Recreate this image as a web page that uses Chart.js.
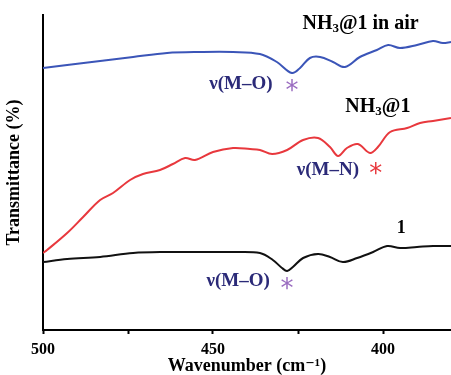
<!DOCTYPE html>
<html>
<head>
<meta charset="utf-8">
<script src="https://cdn.jsdelivr.net/npm/chart.js@4"></script>
<style>
  html, body { margin: 0; padding: 0; background: #fff; }
  #wrap { width: 451px; height: 375px; position: relative; }
</style>
</head>
<body>
<div id="wrap"><canvas id="ir"></canvas></div>
<script>
// IR spectra, far-IR region (arbitrary transmittance units, stacked)
const waveAir = [500, 492.9, 483.2, 473.5, 463.5, 453.8, 444.1, 436.2, 431.2, 426.8, 424.4, 421.5, 418.5, 414.7, 411.2, 406.8, 401.8, 398.5, 395.0, 390.0, 385.3, 382.4, 380];
const tAir    = [262, 265, 269, 273, 277, 278, 278, 276, 268, 257, 262, 272, 273, 268, 263, 273, 280, 285, 282, 285, 289, 287, 288];

const waveNH3 = [500, 498.8, 492.9, 488.2, 483.2, 479.4, 474.4, 470.6, 465.6, 461.8, 458.2, 455.3, 450.0, 444.1, 439.1, 436.2, 432.6, 428.2, 423.5, 419.1, 415.6, 413.2, 410.6, 407.4, 403.8, 401.5, 397.9, 392.9, 389.1, 385.3, 380];
const tNH3    = [77, 80, 97, 113, 130, 137, 150, 156, 160, 166, 172, 170, 178, 182, 181, 180, 176, 180, 190, 192, 183, 174, 182, 186, 177, 183, 198, 202, 207, 209, 212];

const wave1 = [500, 492.9, 483.2, 473.5, 463.5, 453.8, 444.1, 436.2, 432.4, 429.7, 428.2, 426.5, 423.5, 419.1, 415.6, 411.8, 407.6, 402.9, 398.8, 395.0, 390.0, 385.3, 380];
const t1    = [68, 71, 73, 77, 78, 78, 78, 77, 70, 62, 59, 63, 72, 76, 73, 68, 72, 78, 84, 82, 83, 84, 84];

const toXY = (xs, ys) => xs.map((x, i) => ({ x, y: ys[i] }));

const SERIF = "'Liberation Serif', 'DejaVu Serif', serif";
const NAVY = '#2b2a78';
const PURPLE = '#9a6cc0';
const RED = '#e8383d';

// NH3 label with real subscript
function drawNH3(ctx, text, x, y, size) {
    const big = 'bold ' + size + 'px ' + SERIF;
    const small = 'bold ' + Math.round(size * 0.65) + 'px ' + SERIF;
    ctx.font = big; const w1 = ctx.measureText('NH').width;
    ctx.font = small; const w2 = ctx.measureText('3').width;
    ctx.font = big; const w3 = ctx.measureText(text).width;
    let cx = x - (w1 + w2 + w3) / 2;
    ctx.textAlign = 'left'; ctx.textBaseline = 'middle';
    ctx.font = big; ctx.fillText('NH', cx, y); cx += w1;
    ctx.font = small; ctx.fillText('3', cx, y + size * 0.25); cx += w2;
    ctx.font = big; ctx.fillText(text, cx, y);
}

function star(ctx, color, x, y) {
    ctx.fillStyle = color;
    ctx.font = '26px DejaVu Sans, sans-serif';
    ctx.textAlign = 'center'; ctx.textBaseline = 'alphabetic';
    ctx.fillText('*', x, y + 15);
}

const labels = {
    id: 'labels',
    afterDatasetsDraw(chart) {
        const { ctx, scales: { x, y } } = chart;
        ctx.save();
        ctx.fillStyle = '#000';
        drawNH3(ctx, '@1 in air', x.getPixelForValue(406.6), y.getPixelForValue(306), 20);
        drawNH3(ctx, '@1', x.getPixelForValue(401.5), y.getPixelForValue(223), 20);
        ctx.font = 'bold 18px ' + SERIF; ctx.textAlign = 'center'; ctx.textBaseline = 'middle';
        ctx.fillText('1', x.getPixelForValue(394.6), y.getPixelForValue(102));

        ctx.font = 'bold 19px ' + SERIF; ctx.fillStyle = NAVY;
        ctx.fillText('\u03bd(M\u2013O)', x.getPixelForValue(441.8), y.getPixelForValue(246));
        ctx.fillText('\u03bd(M\u2013N)', x.getPixelForValue(416.2), y.getPixelForValue(160));
        ctx.fillText('\u03bd(M\u2013O)', x.getPixelForValue(442.6), y.getPixelForValue(49));

        star(ctx, PURPLE, x.getPixelForValue(426.8), y.getPixelForValue(246));
        star(ctx, PURPLE, x.getPixelForValue(428.2), y.getPixelForValue(48));
        star(ctx, RED, x.getPixelForValue(402.1), y.getPixelForValue(163));
        ctx.restore();
    }
};

new Chart(document.getElementById('ir'), {
    type: 'line',
    data: {
        datasets: [
            { label: 'NH3@1 in air', data: toXY(waveAir, tAir), borderColor: '#3b55b8' },
            { label: 'NH3@1', data: toXY(waveNH3, tNH3), borderColor: RED },
            { label: '1', data: toXY(wave1, t1), borderColor: '#111' }
        ]
    },
    options: {
        responsive: true, maintainAspectRatio: false, animation: false,
        layout: { padding: { top: 15, right: 0, left: 0, bottom: 0 } },
        elements: { point: { radius: 0 }, line: { borderWidth: 2, tension: 0.35 } },
        plugins: { legend: { display: false }, tooltip: { enabled: false } },
        scales: {
            x: {
                type: 'linear', reverse: true, min: 380, max: 500,
                afterBuildTicks: s => { s.ticks = s.ticks.filter(t => t.value % 25 === 0); },
                afterFit: s => { s.height = 45; },
                border: { display: true, color: '#000', width: 2 },
                grid: { drawOnChartArea: false, color: '#000', tickLength: 4, tickWidth: 2 },
                ticks: { stepSize: 25, color: '#000', padding: 6, maxRotation: 0, font: { family: SERIF, size: 16, weight: 'bold' },
                         callback: v => v % 50 === 0 ? v : '' },
                title: { display: true, text: 'Wavenumber (cm\u207b\u00b9)', color: '#000', padding: { top: 0, bottom: -2 }, font: { family: SERIF, size: 18, weight: 'bold' } }
            },
            y: {
                min: 0, max: 315,
                afterFit: s => { s.width = 43; },
                border: { display: true, color: '#000', width: 2 },
                grid: { display: false },
                ticks: { display: false },
                title: { display: true, text: 'Transmittance (%)', color: '#000', padding: 4, font: { family: SERIF, size: 18, weight: 'bold' } }
            }
        }
    },
    plugins: [labels]
});
</script>
</body>
</html>
